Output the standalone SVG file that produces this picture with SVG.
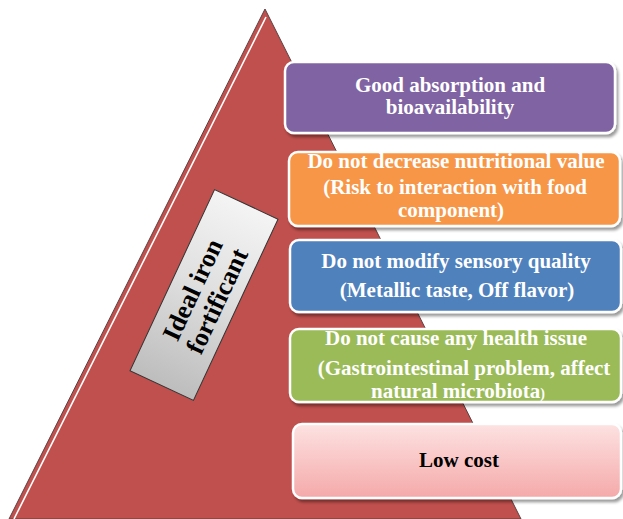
<svg xmlns="http://www.w3.org/2000/svg" width="623" height="519" viewBox="0 0 623 519">
  <defs>
    <linearGradient id="pinkFill" x1="0" y1="0" x2="0" y2="1">
      <stop offset="0" stop-color="#fde2e2"/>
      <stop offset="1" stop-color="#f5a9a9"/>
    </linearGradient>
    <linearGradient id="labelFill" x1="0" y1="0" x2="1" y2="0">
      <stop offset="0" stop-color="#bdbdbd"/>
      <stop offset="0.55" stop-color="#e0e0e0"/>
      <stop offset="1" stop-color="#f4f4f4"/>
    </linearGradient>
    <filter id="shadow" x="-10%" y="-10%" width="120%" height="130%">
      <feGaussianBlur in="SourceAlpha" stdDeviation="1.5"/>
      <feOffset dx="1.5" dy="2.5" result="b"/>
      <feComponentTransfer><feFuncA type="linear" slope="0.4"/></feComponentTransfer>
      <feMerge><feMergeNode/><feMergeNode in="SourceGraphic"/></feMerge>
    </filter>
  </defs>
  <style>
    .box { stroke: #ffffff; stroke-width: 2.5; filter: url(#shadow); }
    .t { font-family: "Liberation Serif", "Times New Roman", serif; font-weight: bold; font-size: 21px; fill: #ffffff; text-anchor: middle; }
    .dark { fill: #000000; }
    .title { font-size: 26px; }
  </style>
  <rect width="623" height="519" fill="#ffffff"/>

  <!-- pyramid with highlighted left edge -->
  <g id="pyramid">
    <polygon points="265,9 9,519 521,519" fill="#c0504d" stroke="#5a4040" stroke-width="1"/>
    <line x1="266" y1="17" x2="14" y2="519" stroke="#ffffff" stroke-width="1.6"/>
  </g>

  <!-- rotated title label -->
  <g id="label" transform="translate(204,295) rotate(-65)">
    <rect x="-100" y="-35" width="200" height="70" fill="url(#labelFill)" stroke="#333333" stroke-width="1"/>
    <text class="t dark title" x="0" y="-4">Ideal iron</text>
    <text class="t dark title" x="0" y="23">fortificant</text>
  </g>

  <g id="absorption">
    <rect class="box" x="285" y="62" width="330" height="71" rx="9" fill="#8064a2"/>
    <text class="t" x="450" y="92">Good absorption and</text>
    <text class="t" x="450" y="114">bioavailability</text>
  </g>

  <g id="nutrition">
    <rect class="box" x="289" y="152" width="331" height="74" rx="9" fill="#f79646"/>
    <text class="t" x="456" y="168">Do not decrease nutritional value</text>
    <text class="t" x="455" y="194">(Risk to interaction with food</text>
    <text class="t" x="451" y="217">component)</text>
  </g>

  <g id="sensory">
    <rect class="box" x="290" y="240" width="331" height="72" rx="9" fill="#4f81bd"/>
    <text class="t" x="456" y="268">Do not modify sensory quality</text>
    <text class="t" x="457" y="297">(Metallic taste, Off flavor)</text>
  </g>

  <g id="health">
    <rect class="box" x="290" y="329" width="331" height="73" rx="9" fill="#9bbb59"/>
    <text class="t" x="456" y="345">Do not cause any health issue</text>
    <text class="t" x="464" y="375">(Gastrointestinal problem, affect</text>
    <text class="t" x="458" y="398">natural microbiota<tspan font-size="14">)</tspan></text>
  </g>

  <g id="cost">
    <rect class="box" x="293" y="424" width="328" height="74" rx="9" fill="url(#pinkFill)"/>
    <text class="t dark" x="459" y="467">Low cost</text>
  </g>
</svg>
